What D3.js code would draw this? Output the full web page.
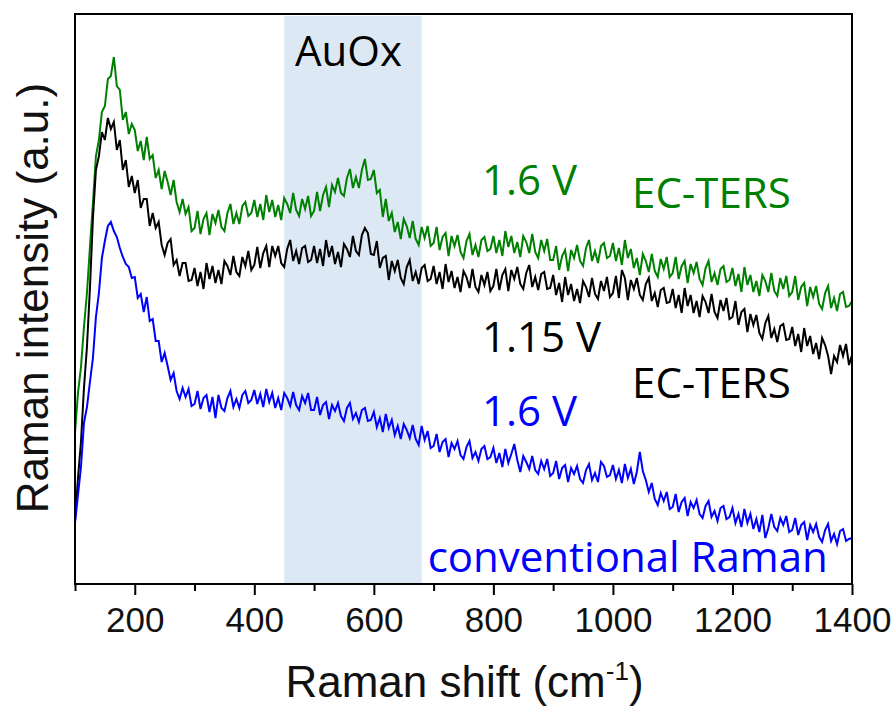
<!DOCTYPE html>
<html>
<head>
<meta charset="utf-8">
<script src="https://cdn.jsdelivr.net/npm/d3@7"></script>
<style>
  body { margin: 0; background: #fff; }
  svg { display: block; }
</style>
</head>
<body>
<svg id="chart" width="895" height="707"></svg>
<script>
// Raman shift grid (cm-1), one sample every 5 cm-1
const shiftStart = 100, shiftEnd = 1400, shiftStep = 5;

// 1.6 V EC-TERS (green)
const ters16 = [
  151,191,217,257,291,337,381,428,444,472,478,505,508,527,498,494,464,472,450,460,
  454,433,443,424,447,425,429,406,414,395,413,402,389,404,382,372,385,370,377,353,
  356,373,350,365,371,349,370,361,374,357,353,371,380,360,371,360,378,382,368,371,
  384,367,380,364,389,372,384,367,379,364,386,380,371,391,374,368,385,375,388,368,
  373,392,373,389,397,377,399,392,406,391,388,406,415,396,407,396,414,425,404,405,
  414,391,394,367,385,363,371,352,362,345,365,358,346,363,345,339,357,346,358,338,
  341,357,334,347,351,328,348,338,349,332,326,343,350,329,339,327,344,347,333,335,
  348,331,344,328,353,337,348,331,342,327,348,342,331,350,332,326,344,333,345,324,
  324,338,314,328,334,313,334,326,339,323,318,336,344,323,333,321,338,341,326,328,
  341,323,336,319,344,326,335,316,326,309,330,323,312,330,313,307,325,315,327,307,
  311,327,305,318,323,301,320,311,322,305,299,316,323,302,311,299,315,318,302,304,
  316,298,310,292,317,299,309,292,303,288,309,303,292,311,293,288,306,295,308,288,
  292,308,284,297,301,278,297,287,298,280,275,291,298,276,286,273,290,292,277,278,
  283
];

// 1.15 V EC-TERS (black)
const ters115 = [
  64,106,142,196,237,296,366,414,428,452,444,466,455,462,434,444,414,424,397,408,
  391,404,376,385,385,358,371,356,362,339,329,341,345,319,324,308,321,321,303,304,
  316,298,312,295,321,305,318,301,314,300,323,318,309,328,312,308,327,318,333,314,
  319,337,316,331,338,317,338,328,338,321,317,335,344,323,333,320,336,338,322,324,
  338,321,335,318,344,327,338,320,332,317,340,335,327,348,333,329,349,356,351,330,
  329,343,316,326,328,304,323,313,324,306,300,317,324,303,312,300,316,319,303,305,
  318,300,312,295,320,302,313,296,307,292,313,307,296,315,297,292,309,299,312,293,
  298,315,294,309,315,293,314,305,317,300,295,311,319,297,307,294,310,312,295,296,
  309,289,301,282,307,289,300,283,295,281,303,297,287,306,290,285,303,293,307,287,
  291,308,286,314,306,284,304,295,306,289,284,300,306,283,291,277,294,296,281,282,
  295,276,289,271,296,278,289,271,283,267,288,282,271,290,272,266,284,273,286,265,
  267,283,259,272,275,252,270,259,269,251,245,261,268,246,255,242,258,260,244,245,
  257,238,250,232,256,238,248,230,241,225,246,239,228,210,228,222,239,228,240,219,
  229
];

// 1.6 V conventional Raman (blue)
const raman16 = [
  61,89,117,161,177,202,226,267,291,326,343,358,362,353,347,336,327,320,317,306,
  307,286,290,272,287,263,265,243,243,222,231,218,204,211,193,185,196,187,195,178,
  180,193,175,186,189,172,187,166,189,176,173,186,193,177,185,176,189,193,181,184,
  194,180,190,177,195,182,191,176,186,174,191,186,178,192,179,174,188,181,191,174,
  174,187,169,179,182,165,179,173,181,168,163,176,181,165,171,162,174,176,163,164,
  172,157,166,152,170,156,164,149,158,145,160,154,146,159,145,139,158,144,153,136,
  138,150,132,142,145,127,141,135,143,129,125,137,143,126,132,123,135,138,125,127,
  136,121,131,117,135,121,130,140,124,112,128,122,115,128,114,110,123,115,125,108,
  111,123,105,116,119,102,116,110,118,105,101,114,120,104,111,102,122,118,107,109,
  119,105,114,101,120,106,115,100,112,132,113,104,92,101,85,79,91,83,92,75,
  77,90,72,82,86,68,82,76,84,70,66,78,83,67,73,63,76,78,65,67,
  76,61,70,57,75,61,70,55,65,52,69,46,56,70,57,53,66,59,68,52,
  54,66,49,59,62,44,59,52,60,47,42,54,60,43,50,40,53,55,43,45,
  46
];

const majorTicks = [200, 400, 600, 800, 1000, 1200, 1400];
const minorTicks = [100, 300, 500, 700, 900, 1100, 1300];
const auOxBand = [450, 680];

const series = [
  {values: ters16,  color: "#008000"},
  {values: ters115, color: "#000000"},
  {values: raman16, color: "#0000ff"}
];

const labels = [
  {text: "AuOx", shift: 468, y: 66, color: "#000000"},
  {text: "1.6 V", shift: 781, y: 195, color: "#008000"},
  {text: "EC-TERS", shift: 1032, y: 208, color: "#008000"},
  {text: "1.15 V", shift: 781, y: 352, color: "#000000"},
  {text: "EC-TERS", shift: 1032, y: 398, color: "#000000"},
  {text: "1.6 V", shift: 781, y: 426, color: "#0000ff"},
  {text: "conventional Raman", shift: 690, y: 572, color: "#0000ff"}
];

const margin = {top: 14, right: 43, bottom: 123, left: 75};
const width = 895, height = 707;
const plotW = width - margin.left - margin.right;
const plotH = height - margin.top - margin.bottom;

const shifts = d3.range(shiftStart, shiftEnd + shiftStep / 2, shiftStep);

const x = d3.scaleLinear().domain([shiftStart, shiftEnd]).range([0, plotW]);
const y = d3.scaleLinear().domain([0, plotH]).range([plotH, 0]);

const svg = d3.select("#chart");
const g = svg.append("g").attr("transform", `translate(${margin.left},${margin.top})`);

g.append("clipPath").attr("id", "clip")
  .append("rect").attr("width", plotW).attr("height", plotH);

// AuOx region
g.append("rect")
  .attr("x", x(auOxBand[0]))
  .attr("y", 2)
  .attr("width", x(auOxBand[1]) - x(auOxBand[0]))
  .attr("height", plotH - 2)
  .attr("fill", "#dde8f5");

// Spectra
const line = d3.line()
  .x((d, i) => x(shifts[i]))
  .y(d => y(d));

g.append("g").attr("clip-path", "url(#clip)")
  .selectAll("path")
  .data(series)
  .join("path")
  .attr("d", d => line(d.values))
  .attr("fill", "none")
  .attr("stroke", d => d.color)
  .attr("stroke-width", 2);

// Frame
g.append("rect")
  .attr("width", plotW)
  .attr("height", plotH)
  .attr("fill", "none")
  .attr("stroke", "#000")
  .attr("stroke-width", 2);

// Bottom axis: major and minor ticks
const axisMajor = g.append("g")
  .attr("transform", `translate(0,${plotH})`)
  .call(d3.axisBottom(x).tickValues(majorTicks).tickSize(11).tickFormat(d3.format("d")));
axisMajor.select(".domain").remove();
axisMajor.selectAll("line").attr("stroke-width", 2);
axisMajor.selectAll("text")
  .attr("y", 48).attr("dy", null)
  .style("font-family", "'Liberation Sans', Arial, sans-serif")
  .style("font-size", "35px")
  .attr("fill", "#111");

const axisMinor = g.append("g")
  .attr("transform", `translate(0,${plotH})`)
  .call(d3.axisBottom(x).tickValues(minorTicks).tickSize(7).tickFormat(""));
axisMinor.select(".domain").remove();
axisMinor.selectAll("line").attr("stroke-width", 2);

// Axis titles
const xTitle = svg.append("text")
  .attr("x", margin.left + plotW / 2 + 1)
  .attr("y", 697)
  .attr("text-anchor", "middle")
  .style("font-family", "'Liberation Sans', Arial, sans-serif")
  .style("font-size", "44px")
  .attr("fill", "#111");
xTitle.append("tspan").text("Raman shift (cm");
xTitle.append("tspan").attr("dy", -17).style("font-size", "26px").text("-1");
xTitle.append("tspan").attr("dy", 17).text(")");

svg.append("text")
  .attr("transform", `translate(48,${margin.top + 284}) rotate(-90)`)
  .attr("text-anchor", "middle")
  .style("font-family", "'Liberation Sans', Arial, sans-serif")
  .style("font-size", "44px")
  .attr("fill", "#111")
  .text("Raman intensity (a.u.)");

// Annotations
g.selectAll(".note")
  .data(labels)
  .join("text")
  .attr("class", "note")
  .attr("x", d => x(d.shift))
  .attr("y", d => d.y - margin.top)
  .attr("fill", d => d.color)
  .style("font-family", "'Open Sans', 'Noto Sans', sans-serif")
  .style("font-size", "42px")
  .text(d => d.text);
</script>
</body>
</html>
